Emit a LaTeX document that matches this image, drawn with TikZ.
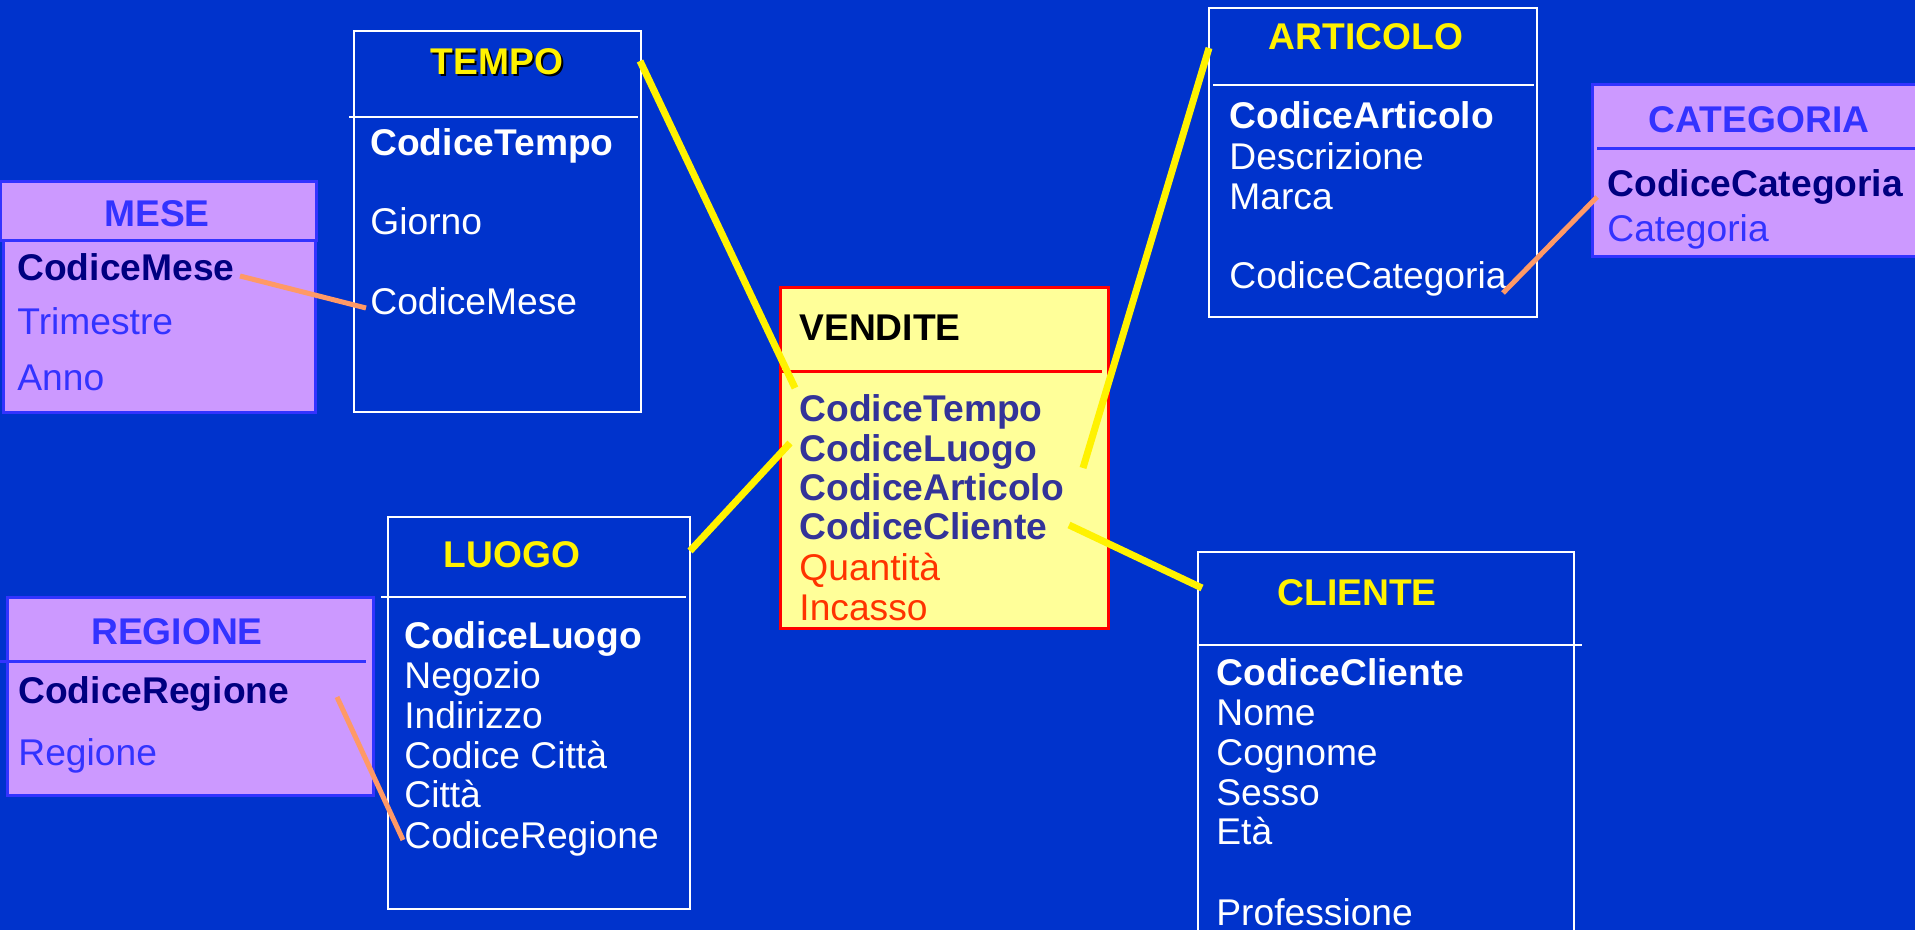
\documentclass[tikz,border=0pt]{standalone}
\usepackage{fontspec}
\setmainfont{Liberation Sans}
\usepackage{tikz}

\definecolor{bgblue}{RGB}{0,51,204}
\definecolor{lilac}{RGB}{204,153,255}
\definecolor{lilacline}{RGB}{51,51,255}
\definecolor{navy}{RGB}{0,0,128}
\definecolor{factfill}{RGB}{255,255,153}
\definecolor{factkey}{RGB}{51,51,153}
\definecolor{measure}{RGB}{255,51,0}
\definecolor{linkorange}{RGB}{255,153,102}

\begin{document}
\begin{tikzpicture}[x=0.5pt,y=0.5pt,yscale=-1,
  lbl/.style={anchor=base west,inner sep=0pt,font=\fontsize{18.6}{20}\selectfont},
  keyattr/.style={lbl,font=\fontsize{18.6}{20}\selectfont\bfseries},
  ttl/.style={keyattr,anchor=base},
  dimbox/.style={draw=white,line width=1.2pt},
  subbox/.style={draw=lilacline,fill=lilac,line width=1.5pt},
  yline/.style={yellow,line width=3.5pt},
  oline/.style={linkorange,line width=2.5pt}]
%set diagram size to the slide
\fill[bgblue] (0,0) rectangle (1915,930);
\useasboundingbox (0,0) rectangle (1915,930);

%Shape: Rectangle [TEMPO]
\draw[dimbox] (354,31) rectangle (641,412);
\draw[dimbox] (349,117) -- (638,117);
% Text Node
\node[ttl,black] (tempo-shadow) at (499,77) {TEMPO};
\node[ttl,yellow] (tempo) at (497,75) {TEMPO};
\node[keyattr,white] (tempo-cod) at (370,156) {CodiceTempo};
\node[lbl,white] (tempo-giorno) at (370,235) {Giorno};
\node[lbl,white] (tempo-mese) at (370,315) {CodiceMese};

%Shape: Rectangle [MESE]
\draw[subbox] (0,182) rectangle (316,241);
\draw[subbox] (3,241) rectangle (315,412);
% Text Node
\node[ttl,lilacline] (mese) at (157,227) {MESE};
\node[keyattr,navy] (mese-cod) at (17,281) {CodiceMese};
\node[lbl,lilacline] (mese-trim) at (17,335) {Trimestre};
\node[lbl,lilacline] (mese-anno) at (17,390) {Anno};

%Shape: Rectangle [VENDITE]
\draw[draw=red,fill=factfill,line width=1.5pt] (780,288) rectangle (1108,628);
\draw[red,line width=1.5pt] (782,372) -- (1102,372);
% Text Node
\node[keyattr,black] (vendite) at (799,341) {VENDITE};
\node[keyattr,factkey] (v-tempo) at (799,421) {CodiceTempo};
\node[keyattr,factkey] (v-luogo) at (799,461) {CodiceLuogo};
\node[keyattr,factkey] (v-art) at (799,500) {CodiceArticolo};
\node[keyattr,factkey] (v-cli) at (799,539) {CodiceCliente};
\node[lbl,measure] (v-qta) at (799,580) {Quantità};
\node[lbl,measure] (v-inc) at (799,620) {Incasso};

%Shape: Rectangle [ARTICOLO]
\draw[dimbox] (1209,8) rectangle (1537,317);
\draw[dimbox] (1213,85) -- (1534,85);
% Text Node
\node[ttl,yellow] (articolo) at (1366,50) {ARTICOLO};
\node[keyattr,white] (art-cod) at (1229,129) {CodiceArticolo};
\node[lbl,white] (art-descr) at (1229,170) {Descrizione};
\node[lbl,white] (art-marca) at (1229,210) {Marca};
\node[lbl,white] (art-cat) at (1229,289) {CodiceCategoria};

%Shape: Rectangle [CATEGORIA]
\draw[subbox] (1592,85) rectangle (1930,257);
\draw[lilacline,line width=1.5pt] (1597,149) -- (1930,149);
% Text Node
\node[ttl,lilacline] (categoria) at (1759,133) {CATEGORIA};
\node[keyattr,navy] (cat-cod) at (1607,197) {CodiceCategoria};
\node[lbl,lilacline] (cat-nome) at (1607,242) {Categoria};

%Shape: Rectangle [LUOGO]
\draw[dimbox] (388,517) rectangle (690,909);
\draw[dimbox] (381,597) -- (686,597);
% Text Node
\node[ttl,yellow] (luogo) at (512,567) {LUOGO};
\node[keyattr,white] (luogo-cod) at (404,648) {CodiceLuogo};
\node[lbl,white] (luogo-neg) at (404,688) {Negozio};
\node[lbl,white] (luogo-ind) at (404,728) {Indirizzo};
\node[lbl,white] (luogo-codcitta) at (404,768) {Codice Città};
\node[lbl,white] (luogo-citta) at (404,807) {Città};
\node[lbl,white] (luogo-reg) at (404,848) {CodiceRegione};

%Shape: Rectangle [REGIONE]
\draw[subbox] (7,597) rectangle (373,795);
\draw[lilacline,line width=1.5pt] (0,661) -- (366,661);
% Text Node
\node[ttl,lilacline] (regione) at (177,644) {REGIONE};
\node[keyattr,navy] (reg-cod) at (18,703) {CodiceRegione};
\node[lbl,lilacline] (reg-nome) at (18,765) {Regione};

%Shape: Rectangle [CLIENTE]
\draw[dimbox] (1198,940) -- (1198,552) -- (1574,552) -- (1574,940);
\draw[dimbox] (1198,645) -- (1582,645);
% Text Node
\node[ttl,yellow] (cliente) at (1357,605) {CLIENTE};
\node[keyattr,white] (cli-cod) at (1216,685) {CodiceCliente};
\node[lbl,white] (cli-nome) at (1216,725) {Nome};
\node[lbl,white] (cli-cognome) at (1216,765) {Cognome};
\node[lbl,white] (cli-sesso) at (1216,805) {Sesso};
\node[lbl,white] (cli-eta) at (1216,844) {Età};
\node[lbl,white] (cli-prof) at (1216,925) {Professione};

%link ends
\coordinate (mese-out) at (240,276);
\coordinate (tempo-in) at (366,308);
\coordinate (cat-out) at (1597,197);
\coordinate (art-in) at (1503,293);
\coordinate (reg-out) at (337,697);
\coordinate (luogo-in) at (403,840);
\coordinate (tempo-out) at (640,61);
\coordinate (v-tempo-in) at (795,388);
\coordinate (luogo-out) at (690,551);
\coordinate (v-luogo-in) at (790,443);
\coordinate (articolo-out) at (1209,48);
\coordinate (v-art-in) at (1083,468);
\coordinate (cliente-out) at (1202,588);
\coordinate (v-cli-in) at (1069,525);

%Straight Lines
\draw[oline] (mese-out) -- (tempo-in);
\draw[oline] (cat-out) -- (art-in);
\draw[oline] (reg-out) -- (luogo-in);
\draw[yline] (tempo-out) -- (v-tempo-in);
\draw[yline] (luogo-out) -- (v-luogo-in);
\draw[yline] (articolo-out) -- (v-art-in);
\draw[yline] (cliente-out) -- (v-cli-in);

\end{tikzpicture}
\end{document}
